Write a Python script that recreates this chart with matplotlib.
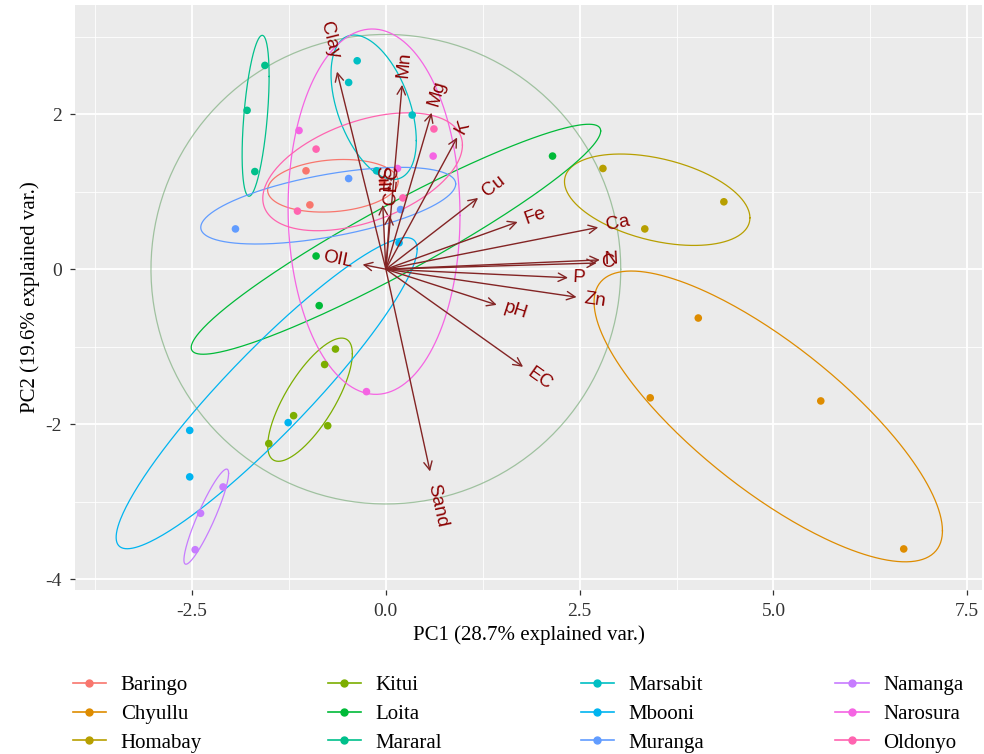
import numpy as np
import matplotlib
matplotlib.use('Agg')
import matplotlib.pyplot as plt
from matplotlib.lines import Line2D

# sample scores (PC1, PC2) per site
groups = ['Baringo', 'Chyullu', 'Homabay', 'Kitui', 'Loita', 'Mararal',
          'Marsabit', 'Mbooni', 'Muranga', 'Namanga', 'Narosura', 'Oldonyo']
colours = ['#F8766D', '#DE8C00', '#B79F00', '#7CAE00', '#00BA38', '#00C08B',
           '#00BFC4', '#00B4F0', '#619CFF', '#C77CFF', '#F564E3', '#FF64B0']

pc1 = {
    'Baringo':  [-1.03, -0.98, -0.04],
    'Chyullu':  [4.03, 3.41, 5.61, 6.68],
    'Homabay':  [2.80, 3.34, 4.36],
    'Kitui':    [-0.65, -0.79, -1.19, -1.51, -0.75],
    'Loita':    [2.15, -0.90, -0.86],
    'Mararal':  [-1.56, -1.79, -1.69],
    'Marsabit': [-0.37, -0.48, 0.34, -0.12],
    'Mbooni':   [-2.53, -2.53, -1.26, 0.17],
    'Muranga':  [-1.94, -0.48, 0.19],
    'Namanga':  [-2.10, -2.39, -2.46],
    'Narosura': [-1.12, 0.61, -0.25, 0.15],
    'Oldonyo':  [-0.90, -1.14, 0.62, 0.22],
}
pc2 = {
    'Baringo':  [1.27, 0.83, 1.13],
    'Chyullu':  [-0.63, -1.66, -1.70, -3.61],
    'Homabay':  [1.30, 0.52, 0.87],
    'Kitui':    [-1.03, -1.23, -1.89, -2.25, -2.02],
    'Loita':    [1.46, 0.17, -0.47],
    'Mararal':  [2.63, 2.05, 1.26],
    'Marsabit': [2.69, 2.41, 1.99, 1.27],
    'Mbooni':   [-2.08, -2.68, -1.98, 0.34],
    'Muranga':  [0.52, 1.17, 0.77],
    'Namanga':  [-2.81, -3.15, -3.62],
    'Narosura': [1.79, 1.46, -1.58, 1.30],
    'Oldonyo':  [1.55, 0.75, 1.81, 0.92],
}

# variable loadings (arrow tips)
var_names = ['Clay', 'Mn', 'Mg', 'K', 'Cu', 'Fe', 'Ca', 'N', 'C', 'P', 'Zn',
             'pH', 'EC', 'Sand', 'OIL', 'Silt', 'CEC']
var_x = [-0.63, 0.21, 0.59, 0.92, 1.19, 1.70, 2.74, 2.76, 2.72, 2.35, 2.46,
         1.43, 1.77, 0.57, -0.30, -0.04, 0.05]
var_y = [2.55, 2.38, 2.02, 1.70, 0.92, 0.61, 0.54, 0.12, 0.08, -0.11, -0.36,
         -0.46, -1.26, -2.61, 0.06, 0.83, 0.70]

circle_r = 3.03
ellipse_prob = 0.68

plt.rcParams['font.family'] = ['Liberation Serif', 'DejaVu Serif']

fig = plt.figure(figsize=(9.84, 7.54), dpi=100)
ax = fig.add_axes([0.0762, 0.2175, 0.9218, 0.7759])
ax.set_facecolor('#EBEBEB')
for s in ax.spines.values():
    s.set_visible(False)

ax.set_xlim(-4.01, 7.69)
ax.set_ylim(-4.14, 3.41)
ax.set_xticks([-2.5, 0, 2.5, 5, 7.5])
ax.set_xticklabels(['-2.5', '0.0', '2.5', '5.0', '7.5'])
ax.set_yticks([-4, -2, 0, 2])
ax.set_yticklabels(['-4', '-2', '0', '2'])
ax.set_xticks([-3.75, -1.25, 1.25, 3.75, 6.25], minor=True)
ax.set_yticks([-3, -1, 1, 3], minor=True)
ax.grid(True, which='major', color='white', lw=1.3)
ax.grid(True, which='minor', color='white', lw=0.6)
ax.set_axisbelow(True)
ax.tick_params(which='major', length=3.5, width=0.9, color='#333333',
               labelsize=14, labelcolor='#333333', pad=6)
ax.tick_params(which='minor', length=0)

# correlation circle
t = np.linspace(0, 2 * np.pi, 300)
ax.plot(circle_r * np.cos(t), circle_r * np.sin(t), color='#7FAF7F',
        lw=0.9, alpha=0.7, zorder=1)

# group points and data ellipses
ed = np.sqrt(-2 * np.log(1 - ellipse_prob))
circ = np.column_stack([np.cos(t), np.sin(t)])
for g, c in zip(groups, colours):
    xs = np.array(pc1[g])
    ys = np.array(pc2[g])
    sigma = np.cov(np.vstack([xs, ys]))
    L = np.linalg.cholesky(sigma)
    ell = circ @ L.T * ed + [xs.mean(), ys.mean()]
    ax.plot(ell[:, 0], ell[:, 1], color=c, lw=0.9, zorder=2)
    ax.scatter(xs, ys, s=30, color=c, edgecolors='none', zorder=3)

# loading arrows and labels
for name, vx, vy in zip(var_names, var_x, var_y):
    ax.annotate('', xy=(vx, vy), xytext=(0, 0),
                arrowprops=dict(arrowstyle='->,head_length=0.6,head_width=0.3',
                                color='#832424', lw=1.0, shrinkA=0, shrinkB=0),
                zorder=4)
    ang = np.degrees(np.arctan(vy / vx))
    d = 0.25 * len(name) * 8 + 1.5
    sgn = np.sign(vx)
    ux, uy = np.cos(np.radians(ang)), np.sin(np.radians(ang))
    ax.annotate(name, xy=(vx, vy), xytext=(sgn * d * ux, sgn * d * uy),
                textcoords='offset points', rotation=ang, rotation_mode='anchor',
                ha='left' if vx > 0 else 'right', va='center',
                color='#8B0000', fontsize=13.5,
                family=['Liberation Sans', 'DejaVu Sans'], zorder=5)

ax.set_xlabel('PC1 (28.7% explained var.)', fontsize=15, labelpad=4)
ax.set_ylabel('PC2 (19.6% explained var.)', fontsize=15, labelpad=4)

# legend: four evenly spaced columns of three
col_x = [0.074, 0.333, 0.590, 0.849]
for i, x0 in enumerate(col_x):
    hs = [Line2D([0], [0], color=c, lw=1.2, marker='o', markersize=5)
          for c in colours[3 * i:3 * i + 3]]
    leg = fig.legend(hs, groups[3 * i:3 * i + 3], loc='center left',
                     bbox_to_anchor=(x0, 0.053), frameon=False, fontsize=15,
                     handlelength=1.6, labelspacing=0.45, handletextpad=0.7,
                     borderpad=0, borderaxespad=0)

plt.savefig('out.png', dpi=100)
plt.close()
